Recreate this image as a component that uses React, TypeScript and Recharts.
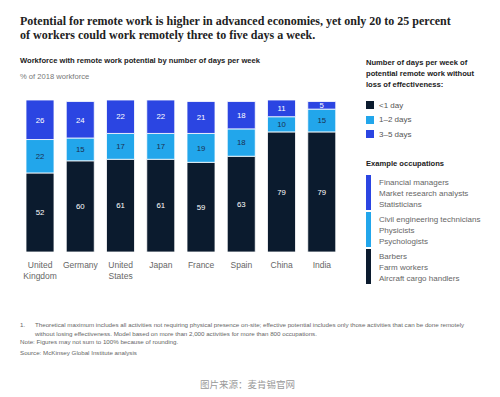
import React from 'react';
import { BarChart, Bar, XAxis, YAxis, LabelList } from 'recharts';

// Countries shown on the x axis
const countries = ['United Kingdom', 'Germany', 'United States', 'Japan', 'France', 'Spain', 'China', 'India'];

// % of 2018 workforce by number of remote days per week
const lessThanOneDay = [52, 60, 61, 61, 59, 63, 79, 79];
const oneToTwoDays = [22, 15, 17, 17, 19, 18, 10, 15];
const threeToFiveDays = [26, 24, 22, 22, 21, 18, 11, 5];

const seriesNames = ['<1 day', '1–2 days', '3–5 days'];

const occupationsBlue = ['Financial managers', 'Market research analysts', 'Statisticians'];
const occupationsLight = ['Civil engineering technicians', 'Physicists', 'Psychologists'];
const occupationsDark = ['Barbers', 'Farm workers', 'Aircraft cargo handlers'];

const DARK = '#0b1b2e';
const LIGHT = '#22a6eb';
const BLUE = '#2b45e2';
const seriesColors = [DARK, LIGHT, BLUE];

const SANS = '"Liberation Sans", Arial, sans-serif';

const data = countries.map((c, i) => ({
  country: c,
  low: lessThanOneDay[i],
  mid: oneToTwoDays[i],
  high: threeToFiveDays[i],
}));

const CountryTick = ({ x, y, payload }: any) => {
  const words = String(payload.value).split(' ');
  return (
    <text x={x} y={y} textAnchor="middle" fill="#666" fontSize={8.5} fontFamily={SANS}>
      {words.map((w, i) => (
        <tspan key={i} x={x} dy={i === 0 ? 8 : 10.5}>{w}</tspan>
      ))}
    </text>
  );
};

const OccupationGroup = ({ color, items, top }: { color: string; items: string[]; top: number }) => (
  <div style={{ position: 'absolute', left: 366, top, display: 'flex' }}>
    <div style={{ width: 5, height: 35, background: color, marginRight: 8 }} />
    <div style={{ fontFamily: SANS, fontSize: 8, color: '#666', lineHeight: '11px', paddingTop: 2 }}>
      {items.map(t => <div key={t}>{t}</div>)}
    </div>
  </div>
);

export default function App() {
  return (
    <div style={{ position: 'absolute', left: 0, top: 0, width: 500, height: 397, background: '#fff', overflow: 'hidden' }}>
      <div style={{ position: 'absolute', left: 20, top: 14, fontFamily: '"Liberation Serif", serif', fontWeight: 'bold', fontSize: 12, lineHeight: '14px', color: '#222', width: 470 }}>
        Potential for remote work is higher in advanced economies, yet only 20 to 25 percent<br />
        of workers could work remotely three to five days a week.
      </div>
      <div style={{ position: 'absolute', left: 20, top: 56, fontFamily: SANS, fontWeight: 'bold', fontSize: 7.6, color: '#222' }}>
        Workforce with remote work potential by number of days per week
      </div>
      <div style={{ position: 'absolute', left: 20, top: 72, fontFamily: SANS, fontSize: 7.6, color: '#777' }}>
        % of 2018 workforce
      </div>

      <div style={{ position: 'absolute', left: 366, top: 57, fontFamily: SANS, fontWeight: 'bold', fontSize: 7.6, lineHeight: '11px', color: '#222' }}>
        Number of days per week of<br />potential remote work without<br />loss of effectiveness:
      </div>
      <div style={{ position: 'absolute', left: 366, top: 98, fontFamily: SANS, fontSize: 8, color: '#555' }}>
        {seriesNames.map((name, i) => (
          <div key={name} style={{ display: 'flex', alignItems: 'center', height: 14.5 }}>
            <span style={{ width: 8, height: 8, background: seriesColors[i], marginRight: 5, display: 'inline-block' }} />
            {name}
          </div>
        ))}
      </div>
      <div style={{ position: 'absolute', left: 366, top: 159, fontFamily: SANS, fontWeight: 'bold', fontSize: 7.6, color: '#222' }}>
        Example occupations
      </div>
      <OccupationGroup color={BLUE} items={occupationsBlue} top={175} />
      <OccupationGroup color={LIGHT} items={occupationsLight} top={212} />
      <OccupationGroup color={DARK} items={occupationsDark} top={249} />

      <div style={{ position: 'absolute', left: 0, top: 0 }}>
        <BarChart width={500} height={397} data={data} margin={{ top: 100, left: 20, right: 158, bottom: 115 }}>
          <XAxis dataKey="country" axisLine={false} tickLine={false} interval={0} tick={<CountryTick />} />
          <YAxis hide domain={[0, 100]} />
          <Bar dataKey="low" name={seriesNames[0]} stackId="a" fill={DARK} stroke="#fff" strokeWidth={0.8} barSize={28} isAnimationActive={false}>
            <LabelList dataKey="low" position="center" fill="#fff" fontSize={7.8} fontFamily={SANS} />
          </Bar>
          <Bar dataKey="mid" name={seriesNames[1]} stackId="a" fill={LIGHT} stroke="#fff" strokeWidth={0.8} barSize={28} isAnimationActive={false}>
            <LabelList dataKey="mid" position="center" fill="#1b3050" fontSize={7.8} fontFamily={SANS} />
          </Bar>
          <Bar dataKey="high" name={seriesNames[2]} stackId="a" fill={BLUE} stroke="#fff" strokeWidth={0.8} barSize={28} isAnimationActive={false}>
            <LabelList dataKey="high" position="center" fill="#fff" fontSize={7.8} fontFamily={SANS} />
          </Bar>
        </BarChart>
      </div>

      <div style={{ position: 'absolute', left: 20, top: 321, fontFamily: SANS, fontSize: 6.2, color: '#666', lineHeight: '8.5px', width: 470 }}>
        <div style={{ display: 'flex' }}>
          <span style={{ width: 15, flexShrink: 0 }}>1.</span>
          <span style={{ whiteSpace: 'nowrap' }}>Theoretical maximum includes all activities not requiring physical presence on-site; effective potential includes only those activities that can be done remotely<br />without losing effectiveness. Model based on more than 2,000 activities for more than 800 occupations.</span>
        </div>
        <div>Note: Figures may not sum to 100% because of rounding.</div>
        <div style={{ marginTop: 2 }}>Source: McKinsey Global Institute analysis</div>
      </div>
      <div style={{ position: 'absolute', left: 200, top: 377, fontFamily: '"Noto Sans CJK SC", sans-serif', fontSize: 9.5, color: '#999' }}>
        图片来源：麦肯锡官网
      </div>
    </div>
  );
}
